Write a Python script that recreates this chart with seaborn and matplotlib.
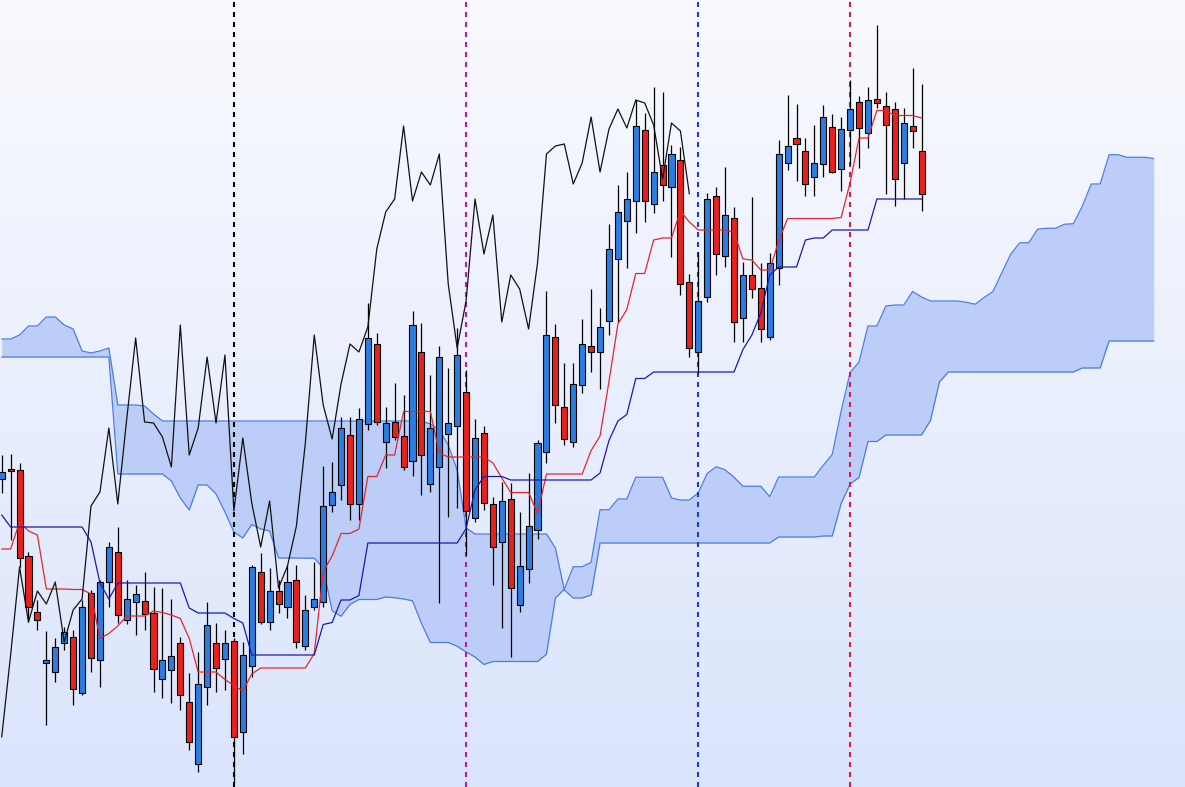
import numpy as np
import pandas as pd
import matplotlib
matplotlib.use("Agg")
import matplotlib.pyplot as plt
import seaborn as sns
from matplotlib.colors import LinearSegmentedColormap

# daily candles, price (arbitrary units)
opens = [321,331,330,244,188,137,128,157,163,107,
 207,140,218,248,180,198,199,187,121,130,
 157,98,36,113,157,141,159,68,134,228,
 178,209,193,220,154,193,198,295,315,365,
 296,376,456,358,378,364,339,448,316,333,
 366,374,408,282,367,296,258,301,195,231,
 270,348,463,393,358,415,454,448,479,541,
 579,599,670,596,635,613,640,518,448,503,
 604,544,582,482,525,512,463,532,637,662,
 649,623,636,673,631,670,698,667,701,694,
 691,637,674,649]
highs = [345,346,337,248,200,169,162,173,170,200,
 210,220,258,273,220,215,228,213,212,201,
 163,127,148,198,177,170,162,158,235,247,
 232,220,235,235,205,238,334,338,383,383,
 392,497,467,393,417,405,489,477,425,454,
 432,472,430,381,374,303,318,317,288,327,
 360,509,476,437,437,481,511,492,576,615,
 628,700,687,713,708,655,653,526,548,607,
 613,633,593,538,603,537,547,660,705,696,
 662,675,695,686,683,720,704,713,775,708,
 698,692,732,716]
lows = [307,260,233,178,170,75,118,150,95,105,
 128,113,193,177,176,165,170,108,102,97,
 90,50,28,95,108,110,17,46,123,176,
 170,187,182,152,150,190,193,288,300,280,
 280,370,375,332,360,330,324,305,308,197,
 283,292,245,278,290,215,172,143,188,217,
 261,337,377,355,353,407,428,411,465,478,
 532,567,578,587,599,543,505,443,427,498,
 525,533,458,458,502,458,460,515,630,619,
 604,604,623,627,609,635,632,652,692,606,
 594,601,652,589]
closes = [328,329,242,193,180,140,153,168,111,193,
 142,218,253,185,201,206,186,131,140,144,
 105,58,116,175,132,157,63,145,233,178,
 209,196,218,158,190,201,294,308,372,296,
 381,462,378,377,363,333,475,345,372,443,
 377,445,289,362,297,253,299,212,234,274,
 357,465,395,361,416,456,448,473,551,588,
 601,674,599,628,615,646,516,452,499,601,
 546,585,478,525,511,471,537,646,654,656,
 616,637,683,628,671,691,672,700,697,675,
 621,677,669,606]

# ichimoku lines as shown
tenkan = [251,251,278,269,265,211,211,211,210.5,210.5,
 206,161.5,166.5,174,184,184,184,189,187.5,185,
 181.5,161.5,128,128,128,120.5,114.5,109,126,132,
 132,132,132,132,132,146.5,228.5,244,266.5,266.5,
 271,323.5,323.5,345,345,388.5,388.5,388.5,388.5,347,
 343,343,343,343,343,337,322,307.5,307.5,307.5,
 286.5,326,326,326,326,326,349.5,364,418.5,476,
 490.5,526.5,526.5,560,562,562,589,578,570,570,
 570,570,567.5,541,540,530,530,559,581.5,581.5,
 581.5,581.5,581.5,581.5,582.5,617.5,662,662,689.5,689.5,
 684.5,684.5,684.5,682]
kijun = [285,273,273,273,273,273,273,273,273,273,
 258,217,201,217,217,217,217,217,217,217,
 217,192,187,187,187,187,181.5,177,145,145,
 145,145,145,145,145,145,175.5,177.5,200,200,
 204.5,257,257,257,257,257,257,257,257,257,
 257,257,271.5,310,323.5,323.5,323.5,320,320,320,
 320,320,320,320,320,320,320,327,359.5,379,
 385.5,421.5,421.5,428,428,428,428,428,428,428,
 428,428,428,450.5,465,487,525,533,533,533,
 560,562,562,570,570,570,570,570,601,601,
 601,601,601,601]
span_a = [443,443,443,443,443,443,443,443,443,443,
 443,443,443,326,326,326,326,326,326,319,
 302,290,315,315,306,288,268,262,275.5,271,
 269,242,242,242,241.75,241.75,232,189.25,183.75,195.5,
 200.5,200.5,200.5,203,202.25,201,199.25,176.75,157.5,157.5,
 157.5,153.75,148,143,135.5,138.5,138.5,138.5,138.5,138.5,
 138.5,145.75,202,210.75,233.25,233.25,237.75,290.25,290.25,301,
 301,322.75,322.75,322.75,322.75,302,300,300,307.25,326.5,
 333.25,330.25,322.75,313.75,313.75,313.75,303.25,323,323,323,
 323,323,334.75,345.5,389,427.5,438,474,474,494,
 495,495,508.5,503,499,499,499,499,497.75,495.75,
 502.5,508.5,527.5,546,557.25,557.25,570.75,571.75,571.75,575.75,
 576.25,593.75,616,616,645.25,645.25,642.75,642.75,642.75,641.5]
span_b = [461,461,465,474,474,483,483,475,471,449,
 447,449,452,395,395,395,394,386,379,379,
 379,379,379,379,379,379,379,379,379,379,
 379,379,379,379,379,379,379,379,379,379,
 379,379,379,379,379,379,379,379,376,370,
 355,330,272,266,266,266,266,266,266,266,
 266,266,252,210,202,202,205,257,257,257,
 257,257,257,257,257,257,257,257,257,257,
 257,257,257,257,257,257,257,263,263,263,
 263,263,264,264,296.5,316,322.5,358.5,358.5,365,
 365,365,365,365,379.5,418,428,428,428,428,
 428,428,428,428,428,428,428,428,428,428,
 428,432,432,432,459,459,459,459,459,459]

shift = 26
marker_bars = [26, 52, 78, 95]
marker_colors = ["#000000", "#b01fa6", "#1f3fbf", "#c8224e"]

df = pd.DataFrame({"open": opens, "high": highs, "low": lows, "close": closes})
df["bar"] = np.arange(len(df))
cloud = pd.DataFrame({"bar": np.arange(len(span_a)), "a": span_a, "b": span_b})

sns.set_style("white")
fig = plt.figure(figsize=(11.85, 7.87), dpi=100)
ax = fig.add_axes([0, 0, 1, 1])

# background gradient
grad = np.linspace(0, 1, 256).reshape(-1, 1)
bg = LinearSegmentedColormap.from_list("bg", ["#f9fafe", "#dae4fb"])
ax.imshow(grad, aspect="auto", cmap=bg, extent=(0, 1, 0, 1),
          transform=ax.transAxes, zorder=0)

# kumo
ax.fill_between(cloud["bar"], cloud["a"], cloud["b"], color="#bccef8", lw=0, zorder=1)
sns.lineplot(data=cloud, x="bar", y="a", color="#4c7de0", lw=0.9, ax=ax, zorder=2)
sns.lineplot(data=cloud, x="bar", y="b", color="#4c7de0", lw=0.9, ax=ax, zorder=2)

for b, c in zip(marker_bars, marker_colors):
    ax.axvline(b, color=c, lw=1.5, linestyle=(0, (2.4, 2.4)), zorder=3)

# candles
up = df["close"] >= df["open"]
ax.vlines(df["bar"], df["low"], df["high"], color="black", lw=0.9, zorder=4)
ax.bar(df["bar"], df["close"] - df["open"], bottom=df["open"], width=0.68,
       color=np.where(up, "#2b7de2", "#e8211d"), edgecolor="black",
       linewidth=0.8, zorder=5)

sns.lineplot(data=df, x="bar", y=pd.Series(tenkan), color="#e5262e", lw=0.9, ax=ax, zorder=6)
sns.lineplot(data=df, x="bar", y=pd.Series(kijun), color="#1b1bb0", lw=0.9, ax=ax, zorder=6)
# chikou: close plotted 26 bars back
sns.lineplot(x=df["bar"][:-shift], y=df["close"][shift:].values, color="#111111",
             lw=0.9, ax=ax, zorder=7)

ax.set_xlim(-0.19, 132.5)
ax.set_ylim(13, 800)
ax.set_axis_off()

fig.savefig("out.png", dpi=100)
